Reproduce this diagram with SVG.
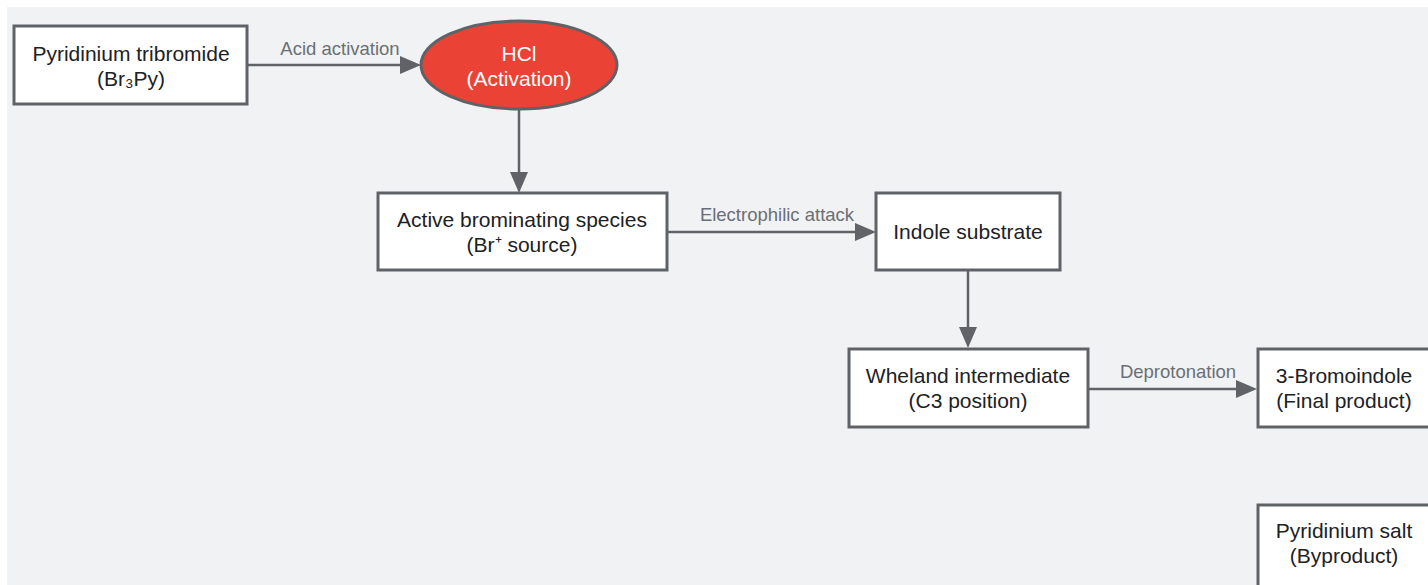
<svg xmlns="http://www.w3.org/2000/svg" width="1428" height="585" viewBox="0 0 1428 585">
<style>
.node{fill:#ffffff;stroke:#5f6368;stroke-width:3}
.t{font-family:"Liberation Sans",Arial,sans-serif;font-size:21px;fill:#202124;text-anchor:middle}
.tw{font-family:"Liberation Sans",Arial,sans-serif;font-size:21px;fill:#ffffff;text-anchor:middle}
.el{font-family:"Liberation Sans",Arial,sans-serif;font-size:18.5px;fill:#6b6f75;text-anchor:middle}
.edge{stroke:#5f6368;stroke-width:2.5;fill:none}
.ah{fill:#5f6368}
</style>
<rect x="0" y="0" width="1428" height="585" fill="#ffffff"/>
<rect x="7" y="7" width="1421" height="578" fill="#f1f2f4"/>
<g id="connectors">
<path class="edge" d="M247,65 L404,65"/>
<polygon class="ah" points="400,56 421,65 400,74"/>
<text class="el" x="340" y="55">Acid activation</text>
<path class="edge" d="M519,109 L519,176"/>
<polygon class="ah" points="510,172 519,193 528,172"/>
<path class="edge" d="M667,232 L858,232"/>
<polygon class="ah" points="855,223 876,232 855,241"/>
<text class="el" x="777" y="221">Electrophilic attack</text>
<path class="edge" d="M968,270 L968,331"/>
<polygon class="ah" points="959,327 968,348 977,327"/>
<path class="edge" d="M1088,389 L1240,389"/>
<polygon class="ah" points="1236,380 1257,389 1236,398"/>
<text class="el" x="1178" y="378">Deprotonation</text>
</g>
<g id="n1">
<rect class="node" x="14" y="26" width="233" height="78"/>
<text class="t" x="131" y="61">Pyridinium tribromide</text>
<text class="t" x="131" y="86">(Br₃Py)</text>
</g>
<g id="n2">
<ellipse cx="519" cy="65" rx="98" ry="44" fill="#ea4335" stroke="#5f6368" stroke-width="3"/>
<text class="tw" x="519" y="61">HCl</text>
<text class="tw" x="519" y="86">(Activation)</text>
</g>
<g id="n3">
<rect class="node" x="378" y="193" width="289" height="77"/>
<text class="t" x="522" y="227">Active brominating species</text>
<text class="t" x="522" y="252">(Br⁺ source)</text>
</g>
<g id="n4">
<rect class="node" x="876" y="193" width="184" height="77"/>
<text class="t" x="968" y="239">Indole substrate</text>
</g>
<g id="n5">
<rect class="node" x="849" y="349" width="239" height="78"/>
<text class="t" x="968" y="383">Wheland intermediate</text>
<text class="t" x="968" y="408">(C3 position)</text>
</g>
<g id="n6">
<rect class="node" x="1258" y="349" width="190" height="78"/>
<text class="t" x="1344" y="383">3-Bromoindole</text>
<text class="t" x="1344" y="408">(Final product)</text>
</g>
<g id="n7">
<rect class="node" x="1258" y="505" width="190" height="90"/>
<text class="t" x="1344" y="538">Pyridinium salt</text>
<text class="t" x="1344" y="563">(Byproduct)</text>
</g>
</svg>
